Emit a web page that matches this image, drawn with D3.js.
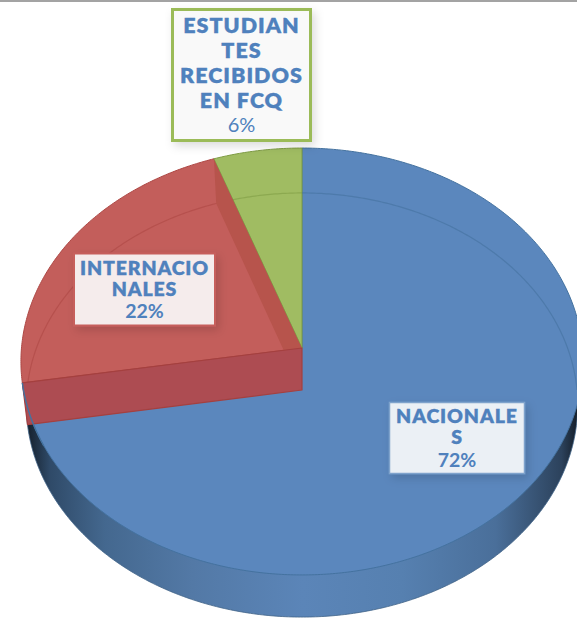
<!DOCTYPE html>
<html>
<head>
<meta charset="utf-8">
<script src="https://cdn.jsdelivr.net/npm/d3@7"></script>
<style>html,body{margin:0;padding:0;background:#fff;}svg{display:block;}</style>
</head>
<body>
<svg id="c" width="577" height="618"></svg>
<script>
// ---- data ----
const categories = ["NACIONALES", "INTERNACIONALES", "ESTUDIANTES RECIBIDOS EN FCQ"];
const values = [72.4, 22.2, 5.4];
const percentLabels = ["72%", "22%", "6%"];
const labelLines = [["NACIONALE", "S"], ["INTERNACIO", "NALES"], ["ESTUDIAN", "TES", "RECIBIDOS", "EN FCQ"]];

// ---- layout / style ----
const faceColors = ["#5b87bd", "#c35e5b", "#a0bc62"];
const edgeColors = ["#44729f", "#ad4744", "#7f9c45"];
const boxes = [
  {x:389.5,y:402.5,w:135,h:71,fill:"#ebf0f5",stroke:"#7fa3cc",sw:1.5,size:19.5,ls:0.9,lh:21,first:423,pct:467,pctSize:19.5,pctW:700},
  {x:74,y:253.5,w:141,h:72,fill:"#f5ecec",stroke:"#c65f5c",sw:2,size:19.5,ls:0.85,lh:21,first:275,pct:318,pctSize:19.5,pctW:700},
  {x:172.5,y:9.5,w:138,h:131,fill:"#f9f9f9",stroke:"#9bbb59",sw:3,size:21.5,ls:1,lh:25,first:33,pct:132,pctSize:20,pctW:400}
];
const cx = 302, apexY = 348, depth = 42;
const R = 280.5, Rb = 275, ry = 212.6, k = 0.0632, ryB = 211, kB = 0.0708;

const svg = d3.select("#c");
const defs = svg.append("defs");

const grad = defs.append("linearGradient").attr("id","wall").attr("gradientUnits","userSpaceOnUse")
  .attr("x1",28).attr("x2",578).attr("y1",0).attr("y2",0);
[[0,"#16222f"],[0.04,"#2f4a68"],[0.14,"#44688f"],[0.3,"#5379a6"],[0.5,"#5b85b8"],[0.68,"#5680b0"],[0.85,"#4a6f9a"],[0.97,"#2c425c"],[1,"#141d28"]]
  .forEach(s => grad.append("stop").attr("offset",s[0]).attr("stop-color",s[1]));

const shadow = defs.append("filter").attr("id","sh").attr("x","-20%").attr("y","-20%").attr("width","150%").attr("height","150%");
shadow.append("feDropShadow").attr("dx",3).attr("dy",4).attr("stdDeviation",5).attr("flood-color","#000").attr("flood-opacity",0.14);

// perspective projection of the unit disc
const project = (a, radius, dy, ryy, kk) => {
  const u = Math.cos(a), v = Math.sin(a), w = 1 + kk * u;
  return [cx + radius * v / w, apexY + dy - ryy * u / w];
};
const topP = a => project(a, R, 0, ry, k);
const botP = a => project(a, Rb, depth, ryB, kB);
const apex = [cx, apexY], apexB = [cx, apexY + depth];
const line = d3.line();
const sample = (a0, a1) => {
  const n = Math.max(2, Math.ceil(Math.abs(a1 - a0) / 0.01));
  return d3.range(n + 1).map(i => a0 + (a1 - a0) * i / n);
};

const slices = d3.pie().sort(null).value(d => d)(values);

// grey rule along the top
svg.append("rect").attr("x",0).attr("y",0).attr("width",577).attr("height",2).attr("fill","#a3a3a3");

// outer wall / bottom disc
svg.append("path")
  .attr("d", line(sample(0, 2*Math.PI).map(botP)) + "Z")
  .attr("fill","url(#wall)").attr("stroke","#3f6287").attr("stroke-width",0.8);

// top faces
slices.forEach((s,i) => {
  const pts = [apex].concat(sample(s.startAngle, s.endAngle).map(topP));
  defs.append("clipPath").attr("id","clip"+i).append("path").attr("d", line(pts)+"Z");
  svg.append("path").datum(s).attr("d", line(pts)+"Z")
    .attr("fill", faceColors[i]).attr("stroke", edgeColors[i]).attr("stroke-width",1).attr("stroke-linejoin","round");
});

// far rim of bottom disc seen through the faces
slices.forEach((s,i) => {
  const g = svg.append("g").attr("clip-path","url(#clip"+i+")");
  g.append("path").attr("d", line(sample(1.5*Math.PI, 2.5*Math.PI).map(botP)))
    .attr("fill","none").attr("stroke",edgeColors[i]).attr("stroke-width",1.2).attr("stroke-opacity",0.6);
});

// inner wall of red slice seen through its face
const redSlice = slices[1];
const band = [topP(redSlice.endAngle), apex, apexB, botP(redSlice.endAngle)];
svg.append("g").attr("clip-path","url(#clip1)").append("path")
  .attr("d", line(band)+"Z").attr("fill","#b7544c");

// front wall of red slice
const wallPts = [topP(redSlice.startAngle), apex, apexB, botP(redSlice.startAngle)];
svg.append("path").attr("d", line(wallPts)+"Z")
  .attr("fill","#ad4c52").attr("stroke","#a5403f").attr("stroke-width",1.2).attr("stroke-linejoin","round");

// blue rim passing over the front wall
svg.append("path")
  .attr("d", line(sample(slices[0].endAngle, slices[0].endAngle - 0.3).map(topP)))
  .attr("fill","none").attr("stroke",edgeColors[0]).attr("stroke-width",1.4);

// labels
const labels = svg.selectAll("g.label").data(boxes).join("g").attr("class","label");
labels.append("rect")
  .attr("x",d=>d.x).attr("y",d=>d.y).attr("width",d=>d.w).attr("height",d=>d.h)
  .attr("fill",d=>d.fill).attr("stroke",d=>d.stroke).attr("stroke-width",d=>d.sw)
  .attr("filter","url(#sh)");
labels.each(function(d,i){
  const g = d3.select(this), mx = d.x + d.w/2;
  labelLines[i].forEach((t,j) => {
    g.append("text").attr("x",mx).attr("y",d.first + j*d.lh).attr("text-anchor","middle")
      .attr("font-family","Lato").attr("font-weight",800).attr("font-size",d.size)
      .attr("letter-spacing",d.ls)
      .attr("fill","#4f81bd").attr("stroke","#4f81bd").attr("stroke-width",0.3).text(t);
  });
  g.append("text").attr("x",mx).attr("y",d.pct).attr("text-anchor","middle")
    .attr("font-family","Lato").attr("font-weight",d.pctW).attr("font-size",d.pctSize)
    .attr("fill","#4f81bd").text(percentLabels[i]);
});
</script>
</body>
</html>
